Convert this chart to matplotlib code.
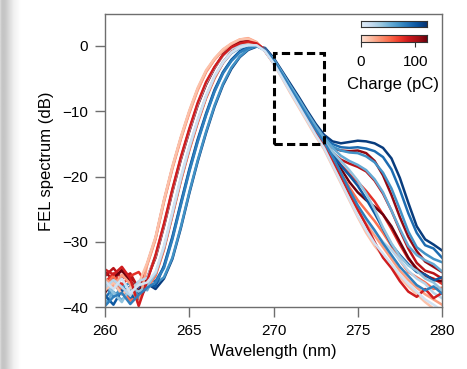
import numpy as np
import matplotlib as mpl
mpl.use("Agg")
import matplotlib.pyplot as plt
from matplotlib.patches import Rectangle

plt.rcParams['font.family'] = ['Liberation Sans', 'DejaVu Sans']

# wavelength grid of the spectra (nm)
wavelength = [260.0, 260.5, 261.0, 261.5, 262.0, 262.5, 263.0, 263.5, 264.0, 264.5,
              265.0, 265.5, 266.0, 266.5, 267.0, 267.5, 268.0, 268.5, 269.0, 269.5,
              270.0, 270.5, 271.0, 271.5, 272.0, 272.5, 273.0, 273.5, 274.0, 274.5,
              275.0, 275.5, 276.0, 276.5, 277.0, 277.5, 278.0, 278.5, 279.0, 279.5,
              280.0]

# blue family spectra (dB) and their charge (pC)
blue_charge = [115, 90, 70, 55, 100, 40, 25, 80, 10]
blue_spectra = [
    [-37.5, -36.2, -38.0, -36.8, -37.9, -36.4,
     -37.2, -35.6, -32.6, -27.9, -22.6, -17.7, -13.3, -9.3, -6.0, -3.5, -1.7, -0.6, -0.1, -0.3,
     -1.8, -3.8, -5.8, -7.8, -9.9, -11.9, -13.6,
     -14.6, -14.9, -14.7, -14.5, -14.6, -14.9, -15.6, -17.2, -20.2, -24.0, -27.6, -29.6, -30.4, -31.3],
    [-38.6, -37.0, -36.4, -38.8, -37.2, -35.8,
     -36.0, -33.8, -29.4, -24.2, -19.1, -14.5, -10.5, -6.9, -4.1, -2.2, -0.9, -0.2, 0.1, -0.5,
     -2.1, -4.1, -6.1, -8.2, -10.3, -12.3, -14.0,
     -15.0, -15.5, -15.6, -15.5, -15.7, -16.1, -17.0, -18.9, -22.0, -25.6, -28.6, -30.5, -31.0, -32.4],
    [-36.8, -38.4, -37.0, -36.2, -38.5, -36.9,
     -36.4, -35.4, -32.4, -27.7, -22.4, -17.5, -13.1, -9.1, -5.8, -3.3, -1.6, -0.5, 0.0, -0.4,
     -2.2, -4.3, -6.4, -8.5, -10.6, -12.6, -14.3,
     -15.4, -16.0, -16.3, -16.4, -16.9, -17.8, -19.4, -21.8, -25.0, -28.4, -30.8, -31.8, -32.6, -33.1],
    [-39.5, -37.6, -38.9, -37.3, -36.1, -37.4,
     -35.0, -31.0, -25.8, -20.5, -15.8, -11.6, -7.8, -4.8, -2.6, -1.1, -0.3, 0.1, 0.0, -0.6,
     -2.0, -4.0, -6.1, -8.1, -10.2, -12.2, -14.0,
     -15.6, -16.8, -17.6, -18.2, -19.0, -20.4, -22.4, -25.2, -28.0, -30.6, -32.0, -32.8, -33.4, -34.5],
    [-38.2, -39.6, -37.4, -38.0, -39.0, -36.6,
     -36.8, -33.6, -29.2, -24.0, -18.9, -14.3, -10.3, -6.7, -4.0, -2.1, -0.8, -0.1, 0.1, -0.5,
     -2.3, -4.4, -6.6, -8.7, -10.8, -12.9, -14.8,
     -16.6, -18.3, -19.8, -21.4, -23.4, -25.6, -28.0, -30.4, -32.0, -33.4, -34.6, -35.0, -35.9, -35.4],
    [-36.4, -37.8, -39.2, -36.9, -37.6, -36.8,
     -34.8, -30.8, -25.6, -20.3, -15.6, -11.4, -7.7, -4.7, -2.5, -1.0, -0.2, 0.1, 0.0, -0.7,
     -2.4, -4.5, -6.6, -8.7, -10.7, -12.8, -14.6,
     -16.2, -17.6, -19.0, -20.6, -22.6, -25.0, -27.8, -30.2, -32.2, -33.6, -34.4, -35.6, -36.2, -37.4],
    [-37.0, -35.8, -36.9, -38.2, -36.0, -35.5,
     -32.2, -27.4, -22.1, -17.2, -12.9, -8.9, -5.7, -3.3, -1.5, -0.4, 0.1, 0.2, 0.1, -0.7,
     -2.6, -4.7, -6.9, -9.0, -11.1, -13.2, -15.1,
     -17.4, -19.9, -22.4, -24.8, -26.6, -28.4, -30.0, -31.2, -32.8, -34.4, -35.6, -36.4, -37.8, -38.6],
    [-39.8, -38.4, -37.8, -39.5, -38.1, -37.0,
     -36.2, -34.0, -29.6, -24.4, -19.3, -14.7, -10.6, -7.0, -4.2, -2.3, -1.0, -0.3, 0.0, -0.6,
     -2.2, -4.3, -6.5, -8.6, -10.7, -12.8, -14.7,
     -16.9, -19.4, -22.0, -24.4, -26.4, -28.2, -30.2, -32.0, -33.8, -35.2, -36.6, -37.4, -36.8, -37.9],
    [-36.0, -37.2, -35.6, -37.8, -36.6, -36.2,
     -34.6, -30.6, -25.4, -20.1, -15.4, -11.3, -7.6, -4.6, -2.5, -1.0, -0.2, 0.1, 0.1, -0.8,
     -2.6, -4.8, -7.0, -9.2, -11.4, -13.6, -15.6,
     -18.2, -20.8, -23.4, -26.0, -28.2, -30.2, -31.8, -33.4, -35.0, -36.4, -37.6, -38.8, -39.6, -40.5],
]

# red family spectra (dB) and their charge (pC)
red_charge = [110, 95, 75, 120, 50, 30, 15, 85]
red_spectra = [
    [-34.6, -35.8, -34.2, -35.4, -36.8, -35.5,
     -32.2, -27.4, -22.1, -17.2, -12.9, -8.9, -5.7, -3.3, -1.3, -0.1, 0.5, 0.7, 0.4, -0.8,
     -2.6, -4.6, -6.7, -8.7, -10.7, -12.6, -14.4,
     -15.6, -16.0, -16.1, -16.0, -16.4, -17.6, -19.8, -22.8, -26.2, -29.2, -31.4, -33.0, -33.8, -34.6],
    [-35.2, -34.0, -35.6, -34.8, -37.2, -33.4,
     -29.4, -23.7, -18.6, -14.1, -10.1, -6.6, -3.9, -2.0, -0.6, 0.3, 0.9, 1.0, 0.4, -0.8,
     -2.5, -4.5, -6.6, -8.7, -10.8, -12.8, -14.7,
     -16.3, -17.4, -18.0, -18.5, -19.2, -20.6, -22.6, -25.2, -28.2, -31.0, -33.2, -34.4, -34.8, -35.6],
    [-36.2, -34.8, -36.6, -35.2, -34.6, -36.4,
     -35.0, -31.0, -25.8, -20.5, -15.8, -11.6, -7.8, -4.8, -2.5, -0.9, 0.0, 0.4, 0.3, -0.6,
     -2.3, -4.3, -6.4, -8.5, -10.6, -12.7, -14.7,
     -16.6, -18.2, -19.6, -20.8, -22.2, -23.8, -25.8, -28.0, -30.4, -32.6, -34.0, -35.2, -35.6, -36.4],
    [-37.8, -35.4, -34.4, -36.0, -37.6, -35.6,
     -32.4, -27.6, -22.3, -17.4, -13.1, -9.1, -5.9, -3.4, -1.4, -0.2, 0.5, 0.8, 0.4, -0.6,
     -2.3, -4.4, -6.5, -8.6, -10.7, -12.8, -14.8,
     -16.8, -18.8, -20.8, -22.4, -23.6, -24.6, -25.8, -27.6, -30.0, -32.4, -34.2, -35.0, -35.8, -36.0],
    [-36.8, -35.2, -37.4, -39.0, -38.2, -37.0,
     -35.2, -31.2, -26.0, -20.7, -16.0, -11.8, -8.0, -5.0, -2.6, -1.0, -0.1, 0.4, 0.3, -0.7,
     -2.4, -4.5, -6.7, -8.9, -11.0, -13.1, -15.1,
     -17.2, -19.4, -21.6, -23.6, -25.2, -26.8, -28.6, -30.6, -32.8, -34.6, -35.4, -36.2, -37.2, -37.0],
    [-35.6, -36.8, -35.0, -36.4, -39.6, -33.6,
     -29.6, -23.9, -18.8, -14.3, -10.3, -6.8, -4.0, -2.1, -0.7, 0.3, 1.0, 1.2, 0.6, -0.8,
     -2.6, -4.7, -6.9, -9.1, -11.3, -13.5, -15.5,
     -17.9, -20.4, -22.8, -25.2, -27.2, -29.0, -30.8, -32.6, -34.4, -35.8, -37.0, -38.0, -38.8, -39.6],
    [-37.4, -36.2, -38.0, -37.0, -36.4, -33.2,
     -29.2, -23.5, -18.4, -13.9, -9.9, -6.4, -3.7, -1.9, -0.5, 0.4, 1.0, 1.1, 0.5, -0.8,
     -2.7, -4.9, -7.2, -9.4, -11.6, -13.8, -15.8,
     -18.4, -21.0, -23.6, -26.2, -28.6, -30.6, -32.2, -33.8, -35.4, -36.8, -38.0, -39.2, -40.2, -40.8],
    [-34.2, -35.0, -33.8, -35.6, -39.8, -36.0,
     -32.0, -27.2, -21.9, -17.0, -12.7, -8.7, -5.5, -3.2, -1.4, -0.2, 0.4, 0.7, 0.4, -0.6,
     -2.4, -4.5, -6.7, -8.9, -11.1, -13.3, -15.3,
     -17.6, -20.0, -22.6, -25.0, -27.4, -30.0, -32.4, -34.0, -36.0, -37.6, -38.4, -37.2, -38.6, -37.8],
]

charge_max = 122.0
box_x = [270.0, 273.0]
box_y = [-15.0, -1.0]

# page shadow on the left border
shadow = [0.84, 0.79, 0.77, 0.77, 0.78, 0.80, 0.82, 0.84, 0.86, 0.88, 0.90,
          0.92, 0.94, 0.95, 0.96, 0.97, 0.98, 0.99, 0.995, 1.0]

blues = plt.get_cmap('Blues')
reds = plt.get_cmap('Reds')


def cval(q):
    return 0.12 + 0.88 * q / charge_max


fig = plt.figure(figsize=(4.67, 3.69), dpi=100)

sh = fig.add_axes([0, 0, 22 / 467, 1])
sh.imshow([shadow], cmap='gray', vmin=0, vmax=1, aspect='auto')
sh.axis('off')

ax = fig.add_axes([105 / 467, 1 - 307.3 / 369, 337 / 467, 293 / 369])

# interleave the two families so they overlap like the original
order = []
for i in range(max(len(blue_spectra), len(red_spectra))):
    if i < len(red_spectra):
        order.append(('r', i))
    if i < len(blue_spectra):
        order.append(('b', i))

for fam, i in order:
    if fam == 'b':
        ax.plot(wavelength, blue_spectra[i], color=blues(cval(blue_charge[i])), lw=1.8)
    else:
        ax.plot(wavelength, red_spectra[i], color=reds(cval(red_charge[i])), lw=1.8)

ax.add_patch(Rectangle((box_x[0], box_y[0]), box_x[1] - box_x[0], box_y[1] - box_y[0],
                       fill=False, ec='black', lw=2.2, ls=(0, (2.7, 1.4)), zorder=10))

ax.set_xlim(260, 280)
ax.set_ylim(-40, 4.85)
ax.set_xticks([260, 265, 270, 275, 280])
ax.set_yticks([0, -10, -20, -30, -40])
ax.set_xlabel("Wavelength (nm)", fontsize=12, labelpad=4)
ax.set_ylabel("FEL spectrum (dB)", fontsize=12, labelpad=6)
for s in ax.spines.values():
    s.set_color('#6e6e6e')
    s.set_linewidth(1.0)
ax.tick_params(direction='out', length=7, width=1.0, color='#6e6e6e',
               labelsize=11, pad=5)

# charge colour bars
grad = [[v / 100 for v in range(101)]]
cb1 = fig.add_axes([360.7 / 467, 1 - 27.3 / 369, 66.6 / 467, 6.3 / 369])
cb1.imshow(grad, cmap='Blues', vmin=-0.12 / 0.88, vmax=1, aspect='auto',
           extent=[0, charge_max, 0, 1])
cb1.set_xticks([])
cb1.set_yticks([])
cb2 = fig.add_axes([360.7 / 467, 1 - 41.7 / 369, 66.6 / 467, 6.7 / 369])
cb2.imshow(grad, cmap='Reds', vmin=-0.12 / 0.88, vmax=1, aspect='auto',
           extent=[0, charge_max, 0, 1])
cb2.set_yticks([])
cb2.set_xticks([0, 100])
cb2.tick_params(axis='x', length=3.5, width=0.8, color='#333333', labelsize=11, pad=6)
for c in (cb1, cb2):
    c.set_xlim(0, charge_max)
    for s in c.spines.values():
        s.set_color('#333333')
        s.set_linewidth(0.8)
fig.text(393 / 467, 1 - 84 / 369, "Charge (pC)", fontsize=12, ha='center', va='center')

fig.savefig("out.png", dpi=100)
